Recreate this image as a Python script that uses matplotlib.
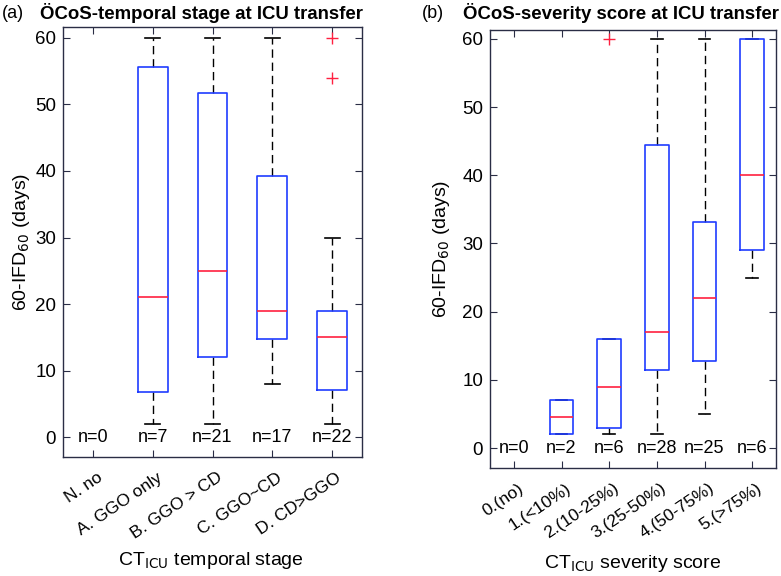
# Box plots of 60-IFD60 by CT_ICU temporal stage and severity score

import numpy as np
import matplotlib
matplotlib.use("Agg")
import matplotlib.pyplot as plt
from matplotlib import transforms

plt.rcParams['font.family'] = ['Liberation Sans', 'DejaVu Sans']

# Panel (a): temporal stage
stage_labels = ['N. no', 'A. GGO only', 'B. GGO > CD', 'C. GGO~CD', 'D. CD>GGO']
stage_n = [0, 7, 21, 17, 22]
stage_pos = [2, 3, 4, 5]
stage_q1 = [6.7, 12.0, 14.7, 7.1]
stage_med = [21.0, 25.0, 19.0, 15.0]
stage_q3 = [55.7, 51.8, 39.2, 19.0]
stage_lo = [2.0, 2.0, 8.0, 2.0]
stage_hi = [60.0, 60.0, 60.0, 30.0]
stage_out = [[], [], [], [54.0, 60.0]]

# Panel (b): severity score
sev_labels = ['0.(no)', '1.(<10%)', '2.(10-25%)', '3.(25-50%)', '4.(50-75%)', '5.(>75%)']
sev_n = [0, 2, 6, 28, 25, 6]
sev_pos = [2, 3, 4, 5, 6]
sev_q1 = [2.0, 3.0, 11.5, 12.75, 29.0]
sev_med = [4.5, 9.0, 17.0, 22.0, 40.0]
sev_q3 = [7.0, 16.0, 44.5, 33.2, 60.0]
sev_lo = [2.0, 2.0, 2.0, 5.0, 25.0]
sev_hi = [7.0, 16.0, 60.0, 60.0, 60.0]
sev_out = [[], [60.0], [], [], []]

edge = '#2a2d45'


def draw_panel(ax, pos, q1, med, q3, lo, hi, out, labels, counts, ylim):
    stats = []
    for i in range(len(pos)):
        stats.append({'med': med[i], 'q1': q1[i], 'q3': q3[i],
                      'whislo': lo[i], 'whishi': hi[i], 'fliers': out[i]})
    ax.bxp(stats, positions=pos, widths=0.5, showfliers=True,
           boxprops=dict(color='#1f3cff', linewidth=1.2, zorder=3),
           medianprops=dict(color='#ff2040', linewidth=1.2, zorder=4),
           whiskerprops=dict(color='black', linewidth=1.0, linestyle=(0, (6, 3.5)), zorder=2),
           capprops=dict(color='black', linewidth=1.2, zorder=2),
           capwidths=0.25,
           flierprops=dict(marker='+', markeredgecolor='#ff2040', markersize=8,
                           markeredgewidth=1.0, linestyle='none'))
    k = len(labels)
    ax.set_xlim(0.5, k + 0.5)
    ax.set_ylim(*ylim)
    ax.set_yticks([0, 10, 20, 30, 40, 50, 60])
    ax.set_xticks(np.arange(1, k + 1))
    ax.tick_params(direction='in', top=True, right=True, length=5,
                   labelsize=13.5, color=edge, pad=5)
    ax.tick_params(axis='x', pad=8)
    ax.set_xticklabels(labels, rotation=34, ha='right', va='center',
                       rotation_mode='anchor', fontsize=12.5)
    # shift the rotated labels so their ends sit right of and below the ticks
    offset = transforms.ScaledTranslation(0.08, -0.08, ax.figure.dpi_scale_trans)
    for lab in ax.xaxis.get_majorticklabels():
        lab.set_transform(lab.get_transform() + offset)
    for s in ax.spines.values():
        s.set_color(edge)
        s.set_linewidth(1.0)
    for i in range(k):
        ax.text(i + 1, 0, 'n=%d' % counts[i], ha='center', va='center', fontsize=13)


fig = plt.figure(figsize=(7.81, 5.76), dpi=100)
ax1 = fig.add_axes([63 / 781, 119 / 576, 299 / 781, 430 / 576])
ax2 = fig.add_axes([490 / 781, 108 / 576, 286 / 781, 438 / 576])

draw_panel(ax1, stage_pos, stage_q1, stage_med, stage_q3, stage_lo, stage_hi,
           stage_out, stage_labels, stage_n, (-3.0, 61.65))
draw_panel(ax2, sev_pos, sev_q1, sev_med, sev_q3, sev_lo, sev_hi,
           sev_out, sev_labels, sev_n, (-2.93, 61.3))

ax1.set_ylabel('60-IFD$_{60}$ (days)', fontsize=14, va='center')
ax2.set_ylabel('60-IFD$_{60}$ (days)', fontsize=14, va='center')
ax1.yaxis.set_label_coords(-0.14, 0.5)
ax2.yaxis.set_label_coords(-0.171, 0.5)
ax1.set_xlabel('CT$_{\\mathrm{ICU}}$ temporal stage', fontsize=14, va='baseline')
ax2.set_xlabel('CT$_{\\mathrm{ICU}}$ severity score', fontsize=14, va='baseline')
ax1.xaxis.set_label_coords(0.495, -0.251)
ax2.xaxis.set_label_coords(0.498, -0.228)

fig.text(201 / 781, 1 - 13 / 576, 'ÖCoS-temporal stage at ICU transfer',
         ha='center', va='center', fontsize=13.4, fontweight='bold')
fig.text(621 / 781, 1 - 13 / 576, 'ÖCoS-severity score at ICU transfer',
         ha='center', va='center', fontsize=13.4, fontweight='bold')
fig.text(2 / 781, 1 - 13 / 576, '(a)', ha='left', va='center', fontsize=13)
fig.text(422 / 781, 1 - 13 / 576, '(b)', ha='left', va='center', fontsize=13)

fig.savefig('out.png', dpi=100)
